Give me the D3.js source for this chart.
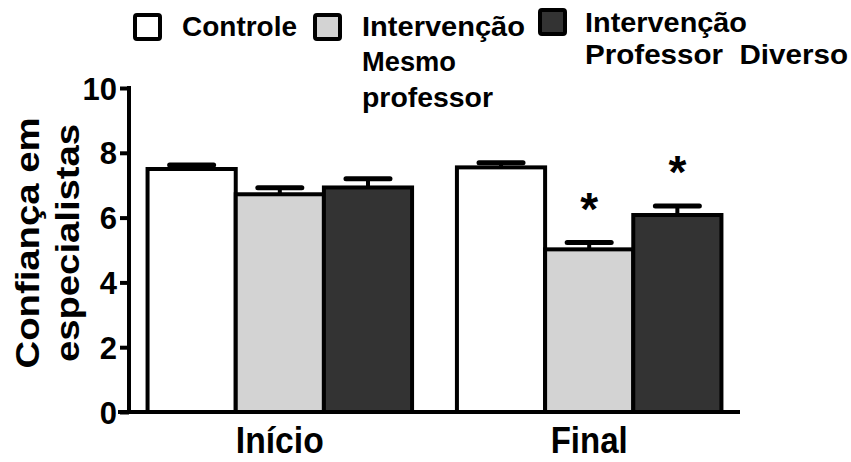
<!DOCTYPE html>
<html>
<head>
<meta charset="utf-8">
<script src="https://cdn.jsdelivr.net/npm/d3@7"></script>
<style>
  html, body { margin: 0; padding: 0; background: #fff; }
  svg { display: block; }
  text { font-family: "Liberation Sans", Arial, sans-serif; font-weight: bold; fill: #000; }
</style>
</head>
<body>
<svg id="chart" width="851" height="462"></svg>
<script>
// ---- data ----
const categories = ["Início", "Final"];
const seriesNames = ["Controle", "Intervenção Mesmo professor", "Intervenção Professor Diverso"];
const controle = [7.50, 7.55];
const controleErr = [0.12, 0.14];
const mesmo = [6.72, 5.02];
const mesmoErr = [0.20, 0.21];
const diverso = [6.93, 6.08];
const diversoErr = [0.27, 0.28];
const mesmoSig = [false, true];
const diversoSig = [false, true];
const yTicks = [0, 2, 4, 6, 8, 10];
const yTitle = ["Confiança em", "especialistas"];

// ---- styles ----
const fills = ["#ffffff", "#d3d3d3", "#333333"];
const series = [
  { name: seriesNames[0], values: controle, err: controleErr, sig: [false, false] },
  { name: seriesNames[1], values: mesmo, err: mesmoErr, sig: mesmoSig },
  { name: seriesNames[2], values: diverso, err: diversoErr, sig: diversoSig }
];

const svg = d3.select("#chart");

const y = d3.scaleLinear().domain([0, 10]).range([412, 88]);
const x0 = d3.scaleBand().domain(categories).range([129, 740]).paddingInner(0.145).paddingOuter(0.06);
const x1 = d3.scaleBand().domain(d3.range(series.length)).range([0, x0.bandwidth()]);

// bars + error bars
const capW = 44;
series.forEach((s, si) => {
  const g = svg.append("g");
  categories.forEach((c, ci) => {
    const bx = x0(c) + x1(si);
    const cx = bx + x1.bandwidth() / 2;
    const v = s.values[ci];
    const top = y(v + s.err[ci]);
    g.append("line")
      .attr("x1", cx).attr("x2", cx)
      .attr("y1", y(v)).attr("y2", top)
      .attr("stroke", "#000").attr("stroke-width", 4);
    g.append("line")
      .attr("x1", cx - capW / 2).attr("x2", cx + capW / 2)
      .attr("y1", top).attr("y2", top)
      .attr("stroke", "#000").attr("stroke-width", 5).attr("stroke-linecap", "round");
    g.append("rect")
      .attr("x", bx).attr("y", y(v))
      .attr("width", x1.bandwidth()).attr("height", y(0) - y(v))
      .attr("fill", fills[si]).attr("stroke", "#000").attr("stroke-width", 4);
    if (s.sig[ci]) {
      g.append("text")
        .attr("x", cx)
        .attr("y", top - 42 + 24)
        .attr("text-anchor", "middle")
        .attr("font-size", 46)
        .text("*");
    }
  });
});

// y axis
const yAxis = d3.axisLeft(y).tickValues(yTicks).tickSize(9).tickPadding(3).tickFormat(d3.format("d"));
const ga = svg.append("g").attr("transform", "translate(129,0)").call(yAxis);
ga.select(".domain").attr("stroke", "#000").attr("stroke-width", 4).attr("d", "M0,86V414");
ga.selectAll(".tick line").attr("stroke", "#000").attr("stroke-width", 4);
ga.selectAll(".tick text")
  .attr("font-family", "Liberation Sans, Arial, sans-serif")
  .attr("font-weight", "bold").attr("font-size", 31).attr("fill", "#000")
  .attr("dy", "0.36em");

// x baseline
svg.append("line").attr("x1", 118).attr("x2", 740).attr("y1", y(0)).attr("y2", y(0))
  .attr("stroke", "#000").attr("stroke-width", 4);

// category labels
svg.selectAll(".cat").data(categories).enter().append("text")
  .attr("class", "cat")
  .attr("x", d => x0(d) + x0.bandwidth() / 2)
  .attr("y", 453)
  .attr("text-anchor", "middle")
  .attr("font-size", 36)
  .attr("textLength", (d, i) => [88, 77][i])
  .attr("lengthAdjust", "spacingAndGlyphs")
  .text(d => d);

// y title
const yt = svg.append("g").attr("transform", "translate(0,243) rotate(-90)");
yt.append("text").attr("x", 0).attr("y", 39).attr("text-anchor", "middle")
  .attr("font-size", 34).attr("textLength", 251).attr("lengthAdjust", "spacingAndGlyphs").text(yTitle[0]);
yt.append("text").attr("x", 0).attr("y", 79).attr("text-anchor", "middle")
  .attr("font-size", 34).attr("textLength", 238).attr("lengthAdjust", "spacingAndGlyphs").text(yTitle[1]);

// legend
const legend = [
  { box: [135, 15], lines: [["Controle", 182, 36, 115]] },
  { box: [315, 15], lines: [["Intervenção", 362, 36, 163], ["Mesmo", 362, 71, 94], ["professor", 362, 107, 131]] },
  { box: [540, 10], lines: [["Intervenção", 585, 32, 162], ["Professor  Diverso", 585, 64, 263]] }
];
legend.forEach((l, i) => {
  svg.append("rect").attr("x", l.box[0]).attr("y", l.box[1]).attr("width", 25).attr("height", 24)
    .attr("rx", 2).attr("fill", fills[i]).attr("stroke", "#000").attr("stroke-width", 4);
  l.lines.forEach(t => {
    svg.append("text").attr("x", t[1]).attr("y", t[2]).attr("font-size", 28)
      .attr("textLength", t[3]).attr("lengthAdjust", "spacingAndGlyphs")
      .style("white-space", "pre")
      .text(t[0]);
  });
});
</script>
</body>
</html>
